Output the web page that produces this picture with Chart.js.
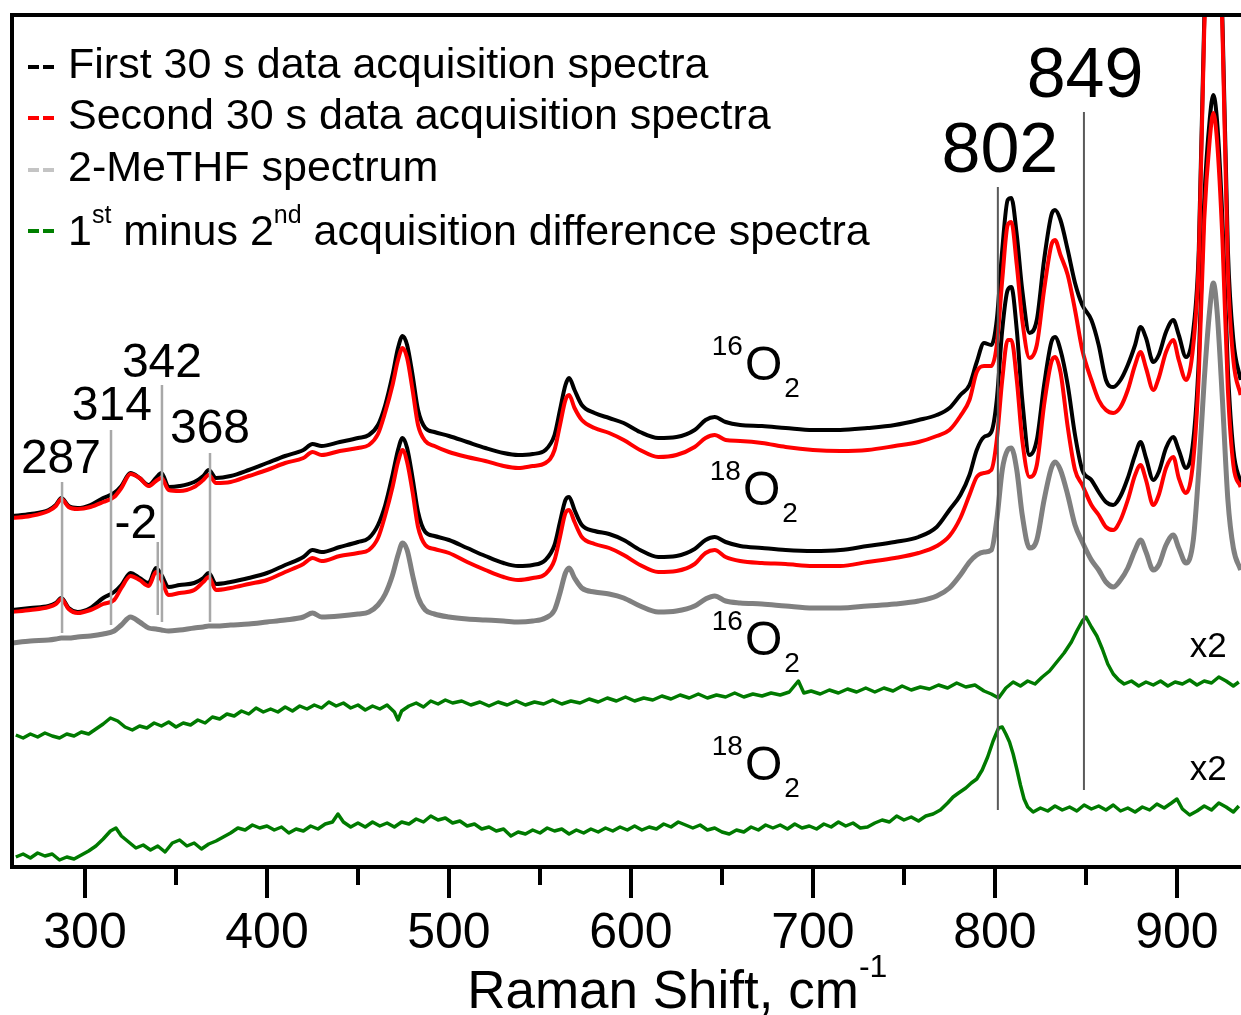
<!DOCTYPE html>
<html>
<head>
<meta charset="utf-8">
<script src="https://cdn.jsdelivr.net/npm/chart.js@4.4.1/dist/chart.umd.min.js"></script>
<style>
    html, body { margin: 0; padding: 0; background: #fff; overflow: hidden; }
    #wrap { width: 1241px; height: 1015px; }
</style>
</head>
<body>
<div id="wrap"><canvas id="ramanChart" width="1241" height="1015"></canvas></div>
<script>
// Raman shift grid (cm-1) shared by the four acquisition traces and the 2-MeTHF trace
const shifts = [
    260,270,280,284,287,291,296,303,310,316,
    320,325,330,335,339,342,346,352,360,365,
    368,372,380,390,400,410,420,425,430,440,
    450,456,461,465,469,472,474.5,477,480,483,
    487,492,500,510,520,530,538,546,553,558,
    561,564,566,569,573,580,588,596,605,615,
    625,635,641,646,652,660,672,685,700,715,
    730,745,758,768,775,781,786,790,794,798,
    801,804,807,809,812,815,819,823,827,831,
    833,836,840,844,848,853,857,861,865,869,
    873,877,880,883,887,890,894,898,901,905,
    909,912,915,918,920,922,925,928,931,935
];

// 16O2 run, first 30 s (offset, arbitrary units)
const first16 = [
    351,353,357,362,369,361,359,362,369,374,
    381,394,389,382,389,394,380,381,385,391,
    397,389,391,397,404,411,417,423,421,425,
    429,432,442,462,492,519,531,522,492,457,
    439,435,431,425,419,414,412,413,417,432,
    457,482,489,477,462,454,449,444,435,429,
    430,437,447,450,445,442,441,439,437,437,
    439,442,447,452,459,472,482,505,524,522,
    547,617,667,669,632,577,534,547,607,652,
    657,647,617,584,562,547,522,487,480,487,
    502,522,540,529,505,512,535,547,532,510,
    537,617,847,967,1017,967,847,617,527,487
];
// 16O2 run, second 30 s
const second16 = [
    349,351,356,361,368,360,358,360,365,370,
    379,393,389,381,386,389,377,376,380,387,
    392,384,385,391,397,404,409,415,412,416,
    419,422,433,455,482,507,519,509,477,442,
    426,421,415,410,406,401,399,401,404,417,
    442,467,472,459,447,439,434,427,417,410,
    412,420,429,432,427,426,424,420,417,416,
    417,421,425,431,437,451,467,495,501,501,
    522,587,642,645,602,547,509,522,577,622,
    627,612,592,557,517,487,467,457,454,460,
    477,502,515,499,477,489,515,527,507,487,
    522,607,837,947,997,947,837,597,507,472
];
// 18O2 run, first 30 s
const first18 = [
    257,259,261,264,269,259,255,259,269,275,
    282,294,289,284,299,292,280,282,284,289,
    294,283,285,289,294,302,310,317,315,320,
    325,329,342,362,392,417,429,419,389,355,
    335,331,327,319,311,304,301,302,307,322,
    345,367,370,357,342,336,333,327,317,310,
    311,318,327,330,325,321,319,317,316,317,
    321,325,330,340,357,372,392,417,430,435,
    467,537,577,580,537,467,412,427,482,525,
    530,517,482,432,397,387,375,365,362,371,
    389,412,425,409,387,395,419,430,417,399,
    427,507,667,747,772,747,647,497,417,384
];
// 18O2 run, second 30 s
const second18 = [
    255,257,260,263,268,258,254,257,263,267,
    279,291,287,281,295,287,272,274,277,285,
    290,277,279,283,287,295,303,309,306,311,
    314,317,329,352,380,405,417,405,375,340,
    322,318,314,305,297,290,287,289,293,307,
    330,354,357,345,330,323,319,312,302,295,
    296,303,314,317,310,306,304,303,301,301,
    305,309,314,321,331,349,372,390,394,397,
    427,487,527,527,487,427,390,402,462,505,
    510,495,440,397,382,362,352,340,337,347,
    367,392,402,387,362,372,399,410,389,374,
    407,492,647,727,754,727,627,477,402,380
];
// 2-MeTHF solvent
const solvent = [
    224,226,227,228,229,229,230,231,233,236,
    242,250,245,239,238,237,236,237,239,240,
    241,241,242,243,245,247,250,254,250,251,
    253,255,262,273,292,312,324,317,292,270,
    257,253,250,248,247,246,245,246,249,257,
    274,294,299,289,279,275,273,269,261,255,
    256,261,268,271,266,264,263,261,259,259,
    261,263,266,271,279,292,305,312,315,317,
    347,397,417,419,397,352,319,327,367,399,
    405,397,372,342,325,307,297,285,280,287,
    299,317,327,315,297,302,322,332,319,304,
    327,397,487,557,584,557,467,367,319,297
];

// 1st minus 2nd difference, 16O2 (x2)
const diff16Shifts = [
    262,266,270,274,278,282,286,290,294,298,
    302,306,310,314,318,322,326,330,334,338,
    342,346,350,354,358,362,366,370,374,378,
    382,386,390,394,398,402,406,410,414,418,
    422,426,430,434,438,442,446,450,454,458,
    462,466,470,472,474,478,482,486,490,494,
    498,502,507,512,517,522,527,532,537,542,
    547,552,557,562,567,572,577,582,587,592,
    597,602,607,612,617,622,627,632,637,642,
    647,652,657,662,667,672,677,682,687,692,
    695,699,704,709,714,719,724,729,734,739,
    744,749,754,759,764,769,774,779,784,789,
    794,798,802,806,810,814,818,822,826,830,
    834,838,842,845,848,850,853,856,859,862,
    865,868,871,875,879,883,887,891,895,899,
    903,907,911,915,919,923,927,931,934
];
const diff16 = [
    132,129,133,130,134,131,129,133,131,135,
    133,138,143,149,146,140,137,141,139,144,
    141,145,140,144,142,147,144,150,148,153,
    151,156,153,159,155,158,155,160,156,161,
    158,162,159,165,161,164,159,162,157,161,
    158,162,155,147,156,161,164,160,166,163,
    167,164,166,162,165,161,165,162,166,162,
    165,163,167,163,166,164,168,165,169,166,
    170,166,169,167,171,168,172,169,173,169,
    172,170,174,170,173,171,174,172,175,186,
    174,176,173,177,174,178,175,179,175,179,
    176,181,177,180,178,182,179,184,180,182,
    176,173,169,179,185,181,186,183,190,196,
    205,214,225,236,246,250,240,231,218,203,
    193,187,183,186,181,185,182,186,181,185,
    183,187,182,186,184,190,186,181,185
];
// 1st minus 2nd difference, 18O2 (x2)
const diff18Shifts = [
    262,266,270,274,278,282,286,290,294,298,
    302,306,310,314,317,320,324,328,332,336,
    340,344,348,352,356,360,364,368,372,376,
    380,384,388,392,396,400,404,408,412,416,
    420,424,428,432,436,439,442,446,450,454,
    458,462,466,470,474,478,482,486,490,494,
    498,502,506,510,514,518,522,526,530,534,
    538,542,546,550,554,558,562,566,570,574,
    578,582,586,590,594,598,602,606,610,614,
    618,622,626,630,634,638,642,646,650,654,
    658,662,666,670,674,678,682,686,690,694,
    698,702,706,710,714,718,722,726,730,734,
    738,742,746,750,754,758,762,766,770,774,
    777,780,784,787,790,793,796,799,802,804,
    806,808,810,812,814,816,818,821,825,829,
    833,837,841,845,849,853,857,861,865,869,
    873,877,881,885,889,893,897,900,903,907,
    911,915,919,923,927,931,934
];
const diff18 = [
    10,13,9,14,11,13,7,10,8,12,
    16,21,28,36,39,31,25,19,22,17,
    21,15,24,27,21,24,18,23,26,30,
    34,39,37,42,39,41,37,40,34,38,
    36,41,38,43,45,53,45,40,44,40,
    45,41,44,40,45,43,48,45,51,47,
    49,44,46,41,43,38,40,36,38,31,
    35,33,37,34,39,36,38,33,37,34,
    38,35,39,36,40,37,41,37,40,38,
    43,40,45,42,39,42,37,39,35,33,
    37,35,40,37,42,39,42,38,43,39,
    41,38,43,40,45,41,44,39,40,44,
    47,45,51,47,50,46,51,53,57,64,
    70,74,79,84,88,97,110,126,139,140,
    133,125,113,98,82,68,60,55,59,56,
    61,57,60,56,62,58,61,57,62,56,
    59,55,60,57,63,59,64,68,58,52,
    56,61,57,64,60,55,61
];

// band markers: position, top and bottom of the drop line
const markerShifts = [287.4, 314.3, 342.3, 340, 368.7, 801.6, 848.9];
const markerTop    = [385, 437, 482, 325, 414, 680, 755];
const markerBottom = [234, 242, 245, 252, 245, 57, 77];

const peakText = ['287', '314', '342', '368', '-2', '802', '849'];
const peakX    = [286.8, 314.8, 342.3, 368.7, 328, 802.7, 849.5];
const peakY    = [394, 447, 490, 424, 329, 695, 770];

const isoMass = ['16', '18', '16', '18'];
const isoX    = [662.6, 661.5, 662.6, 662.6];
const isoY    = [487, 362, 212, 87];

const scaleTagX = [907, 907];
const scaleTagY = [210, 87];

const legendColors = ['#000000', '#ff0000', '#c4c4c4', '#008000'];
const legendRows = [
    [{ text: 'First 30 s data acquisition spectra' }],
    [{ text: 'Second 30 s data acquisition spectra' }],
    [{ text: '2-MeTHF spectrum' }],
    [{ text: '1' }, { text: 'st', sup: true }, { text: ' minus 2' }, { text: 'nd', sup: true },
     { text: ' acquisition difference spectra' }]
];
const legendBaselines = [78, 129, 181, 245];

const FONT = '"Liberation Sans", Arial, Helvetica, sans-serif';

function pts(xs, ys) {
    return xs.map((x, i) => ({ x: x, y: ys[i] }));
}

function trace(label, xs, ys, color, width, order, mono) {
    return {
        label: label,
        data: pts(xs, ys),
        borderColor: color,
        borderWidth: width,
        borderJoinStyle: 'round',
        pointRadius: 0,
        fill: false,
        order: order,
        cubicInterpolationMode: mono ? 'monotone' : 'default',
        tension: 0
    };
}

const datasets = [
    trace('16O2 second', shifts, second16, '#ff0000', 4, 1, true),
    trace('16O2 first', shifts, first16, '#000000', 4, 2, true),
    trace('18O2 second', shifts, second18, '#ff0000', 4, 1, true),
    trace('18O2 first', shifts, first18, '#000000', 4, 2, true),
    trace('2-MeTHF', shifts, solvent, '#808080', 5, 3, true),
    trace('diff 16O2', diff16Shifts, diff16, '#007a00', 3.5, 4, false),
    trace('diff 18O2', diff18Shifts, diff18, '#007a00', 3.5, 4, false)
];

markerShifts.forEach((s, i) => {
    datasets.push({
        label: 'marker ' + s,
        data: [{ x: s, y: markerBottom[i] }, { x: s, y: markerTop[i] }],
        borderColor: i < 5 ? '#a8a8a8' : '#5a5a5a',
        borderWidth: i < 5 ? 2.5 : 2,
        pointRadius: 0,
        order: 0
    });
});

function drawRich(ctx, pieces, x, y, size, supRatio, raise) {
    ctx.textAlign = 'left';
    ctx.textBaseline = 'alphabetic';
    pieces.forEach(p => {
        const s = p.sup ? Math.round(size * supRatio) : size;
        ctx.font = s + 'px ' + FONT;
        ctx.fillText(p.text, x, p.sup ? y - raise : y);
        x += ctx.measureText(p.text).width;
    });
}

const decor = {
    id: 'decor',
    afterDatasetsDraw(chart) {
        const ctx = chart.ctx;
        const area = chart.chartArea;
        const xs = chart.scales.x;
        const ys = chart.scales.y;
        ctx.save();
        ctx.fillStyle = '#000';

        // frame: top, left, bottom
        ctx.strokeStyle = '#000';
        ctx.lineWidth = 4;
        ctx.beginPath();
        ctx.moveTo(area.right + 5, area.top);
        ctx.lineTo(area.left, area.top);
        ctx.lineTo(area.left, area.bottom);
        ctx.lineTo(area.right + 5, area.bottom);
        ctx.stroke();

        // outward ticks, long on the hundreds
        xs.ticks.forEach(t => {
            const px = Math.round(xs.getPixelForValue(t.value));
            const len = t.value % 100 === 0 ? 31 : 18;
            ctx.beginPath();
            ctx.moveTo(px, area.bottom);
            ctx.lineTo(px, area.bottom + len);
            ctx.stroke();
        });

        // band labels
        ctx.textAlign = 'center';
        ctx.textBaseline = 'alphabetic';
        peakText.forEach((t, i) => {
            ctx.font = (i < 5 ? 48 : 70) + 'px ' + FONT;
            ctx.fillText(t, xs.getPixelForValue(peakX[i]), ys.getPixelForValue(peakY[i]));
        });

        // isotope labels
        isoMass.forEach((m, i) => {
            const px = xs.getPixelForValue(isoX[i]);
            const py = ys.getPixelForValue(isoY[i]);
            ctx.font = '48px ' + FONT;
            ctx.textAlign = 'left';
            ctx.fillText('O', px, py);
            const w = ctx.measureText('O').width;
            ctx.font = '28px ' + FONT;
            ctx.textAlign = 'right';
            ctx.fillText(m, px - 2, py - 25);
            ctx.textAlign = 'left';
            ctx.fillText('2', px + w + 2, py + 17);
        });

        // scaling tags
        ctx.font = '35px ' + FONT;
        ctx.textAlign = 'left';
        scaleTagX.forEach((x, i) => {
            ctx.fillText('x2', xs.getPixelForValue(x), ys.getPixelForValue(scaleTagY[i]));
        });

        // legend
        legendRows.forEach((row, i) => {
            const yb = legendBaselines[i];
            const my = yb - (i === 3 ? 14 : 11);
            ctx.strokeStyle = legendColors[i];
            ctx.lineWidth = 4;
            ctx.beginPath();
            ctx.moveTo(28, my); ctx.lineTo(39, my);
            ctx.moveTo(43, my); ctx.lineTo(54, my);
            ctx.stroke();
            ctx.fillStyle = '#000';
            drawRich(ctx, row, 68, yb, 43, 0.58, 22);
        });

        // axis title
        drawRich(ctx, [{ text: 'Raman Shift, cm' }, { text: '-1', sup: true }],
                 xs.getPixelForValue(510), 1008, 53, 0.6, 31);
        ctx.restore();
    }
};

new Chart(document.getElementById('ramanChart'), {
    type: 'line',
    data: { datasets: datasets },
    options: {
        responsive: false,
        animation: false,
        events: [],
        layout: { padding: { left: 12, top: 15, right: 0, bottom: 0 } },
        plugins: {
            legend: { display: false },
            tooltip: { enabled: false }
        },
        scales: {
            x: {
                type: 'linear',
                min: 259.9,
                max: 935.2,
                border: { display: false },
                grid: {
                    drawOnChartArea: false,
                    drawTicks: true,
                    tickLength: 31,
                    color: 'rgba(0,0,0,0)'
                },
                ticks: {
                    stepSize: 50,
                    includeBounds: false,
                    autoSkip: false,
                    maxRotation: 0,
                    padding: 6,
                    color: '#000',
                    font: { family: FONT, size: 50 },
                    callback: v => (v % 100 === 0 ? String(v) : '')
                },
                afterFit: scale => { scale.height = 148; }
            },
            y: {
                type: 'linear',
                display: false,
                min: 0,
                max: 852
            }
        }
    },
    plugins: [decor]
});
</script>
</body>
</html>
